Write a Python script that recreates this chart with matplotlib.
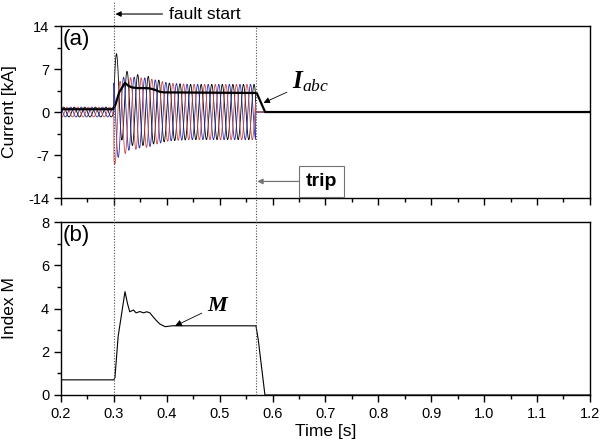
import numpy as np
import matplotlib
matplotlib.use('Agg')
import matplotlib.pyplot as plt
from matplotlib import transforms
from matplotlib.lines import Line2D
from matplotlib.ticker import MultipleLocator

plt.rcParams['font.family'] = ['Liberation Sans', 'DejaVu Sans']
plt.rcParams['axes.unicode_minus'] = False
plt.rcParams['mathtext.fontset'] = 'custom'
plt.rcParams['mathtext.bf'] = 'Liberation Serif:bold:italic'
plt.rcParams['mathtext.it'] = 'Liberation Serif:italic'
plt.rcParams['mathtext.rm'] = 'Liberation Serif'

# event times [s]
fault_time = 0.30
trip_time = 0.568
freq = 50.0
prefault_amp = 0.8   # kA

# per-cycle peak data during the fault
cycle_t = [0.305, 0.325, 0.345, 0.365, 0.385, 0.405, 0.425, 0.445,
           0.465, 0.485, 0.505, 0.525, 0.545, 0.565]
fault_amp = [6.6, 6.0, 5.8, 5.6, 5.1, 4.7, 4.6, 4.5, 4.5, 4.5, 4.5, 4.5, 4.5, 4.5]
dc_a = [2.9, 0.6, 0.3, 0.2, 0.1, 0.0, 0.0, 0.0, 0.0, 0.0, 0.0, 0.0, 0.0, 0.0]
dc_b = [-1.9, -0.4, -0.2, -0.1, 0.0, 0.0, 0.0, 0.0, 0.0, 0.0, 0.0, 0.0, 0.0, 0.0]
dc_c = [-1.0, -0.3, -0.1, -0.1, 0.0, 0.0, 0.0, 0.0, 0.0, 0.0, 0.0, 0.0, 0.0, 0.0]

# I_abc envelope (top) and index M (bottom)
iabc_t = [0.2, 0.299, 0.303, 0.310, 0.321, 0.327, 0.334, 0.345, 0.358, 0.368,
          0.378, 0.387, 0.395, 0.570, 0.586, 1.2]
iabc_v = [0.45, 0.45, 1.2, 3.2, 4.75, 4.3, 4.0, 3.9, 3.9, 3.85, 3.6, 3.3, 3.2,
          3.1, 0.0, 0.0]

m_t = [0.2, 0.300, 0.302, 0.308, 0.321, 0.326, 0.330, 0.337, 0.342, 0.349,
       0.356, 0.362, 0.368, 0.374, 0.380, 0.387, 0.397, 0.410, 0.5686,
       0.573, 0.5856, 1.2]
m_v = [0.7, 0.7, 0.8, 2.7, 4.78, 4.2, 3.85, 3.93, 3.8, 3.86, 3.8, 3.85, 3.8,
       3.62, 3.45, 3.28, 3.16, 3.2, 3.2, 2.55, 0.0, 0.0]

t = np.arange(0.2, 1.2, 0.0002)


def phase_current(shift, dc):
    amp = np.where(t < fault_time, prefault_amp, np.interp(t, cycle_t, fault_amp))
    off = np.where(t < fault_time, 0.0, np.interp(t, cycle_t, dc))
    i = off + amp * np.sin(2 * np.pi * freq * (t - fault_time) + shift)
    i[t >= trip_time] = 0.0
    return i


ia = phase_current(0.0, dc_a)
ib = phase_current(-2 * np.pi / 3, dc_b)
ic = phase_current(2 * np.pi / 3, dc_c)

fig = plt.figure(figsize=(6.01, 4.45), dpi=100)
ax1 = fig.add_axes([0.1015, 0.555, 0.880, 0.3865])
ax2 = fig.add_axes([0.1015, 0.1124, 0.880, 0.3886])

# (a) currents
ax1.plot(t, ia, color='black', lw=0.6)
ax1.plot(t, ic, color='#2a2ab0', lw=0.6)
ax1.plot(t, ib, color='#cc4848', lw=0.6)
ax1.plot(iabc_t, iabc_v, color='black', lw=1.6)
ax1.set_xlim(0.2, 1.2)
ax1.set_ylim(-14, 14)
ax1.set_yticks([-14, -7, 0, 7, 14])
ax1.yaxis.set_minor_locator(MultipleLocator(3.5))
ax1.xaxis.set_major_locator(MultipleLocator(0.1))
ax1.xaxis.set_minor_locator(MultipleLocator(0.05))
ax1.tick_params(labelbottom=False)
ax1.set_ylabel('Current [kA]', fontsize=12.5)
ax1.yaxis.set_label_coords(-0.083, 0.5)
ax1.text(0.004, 0.985, '(a)', transform=ax1.transAxes, fontsize=16,
         ha='left', va='top')

# (b) index M
ax2.plot(m_t, m_v, color='black', lw=0.8)
ax2.set_xlim(0.2, 1.2)
ax2.set_ylim(0, 8)
ax2.yaxis.set_major_locator(MultipleLocator(2))
ax2.yaxis.set_minor_locator(MultipleLocator(1))
ax2.xaxis.set_major_locator(MultipleLocator(0.1))
ax2.xaxis.set_minor_locator(MultipleLocator(0.05))
ax2.set_ylabel('Index M', fontsize=12.5)
ax2.yaxis.set_label_coords(-0.083, 0.5)
ax2.set_xlabel('Time [s]', fontsize=12.5, labelpad=2)
ax2.text(0.004, 0.985, '(b)', transform=ax2.transAxes, fontsize=16,
         ha='left', va='top')

for ax in (ax1, ax2):
    ax.tick_params(which='major', direction='out', length=5, width=1,
                   labelsize=10.5)
    ax.tick_params(which='minor', direction='out', length=3, width=1)
    for s in ax.spines.values():
        s.set_linewidth(1.0)

# dotted event lines spanning both panels
bt = transforms.blended_transform_factory(ax1.transData, fig.transFigure)
fig.add_artist(Line2D([fault_time, fault_time], [0.1124, 0.995], transform=bt,
                      color='0.3', lw=0.8, ls=(0, (1, 1.5))))
fig.add_artist(Line2D([trip_time, trip_time], [0.1124, 0.9415], transform=bt,
                      color='0.3', lw=0.8, ls=(0, (1, 1.5))))

# annotations
ax1.annotate('fault start', xy=(0.303, 0.9685), xycoords=bt,
             xytext=(0.405, 0.9685), textcoords=bt, fontsize=12.5,
             ha='left', va='center', annotation_clip=False,
             arrowprops=dict(arrowstyle='-|>', color='black', lw=0.8,
                             mutation_scale=8, shrinkA=3, shrinkB=0))
ax1.annotate('trip', xy=(0.571, -11.3), xytext=(0.693, -11.3), fontsize=14,
             fontweight='bold', ha='center', va='center',
             bbox=dict(boxstyle='square,pad=0.35', fc='white', ec='0.45', lw=0.8),
             arrowprops=dict(arrowstyle='-|>', color='0.45', lw=0.9,
                             mutation_scale=8, shrinkA=0, shrinkB=0))
ax1.annotate(r'$\mathbf{I}_{abc}$', xy=(0.583, 1.5), xytext=(0.637, 3.9),
             fontsize=18, ha='left', va='baseline',
             arrowprops=dict(arrowstyle='-|>', color='black', lw=0.6,
                             mutation_scale=9, shrinkA=2, shrinkB=0))
ax2.annotate(r'$\mathbf{M}$', xy=(0.4155, 3.19), xytext=(0.476, 3.9),
             fontsize=16, ha='left', va='baseline',
             arrowprops=dict(arrowstyle='-|>', color='black', lw=0.6,
                             mutation_scale=10, shrinkA=2, shrinkB=0))

fig.savefig('out.png', dpi=100)
